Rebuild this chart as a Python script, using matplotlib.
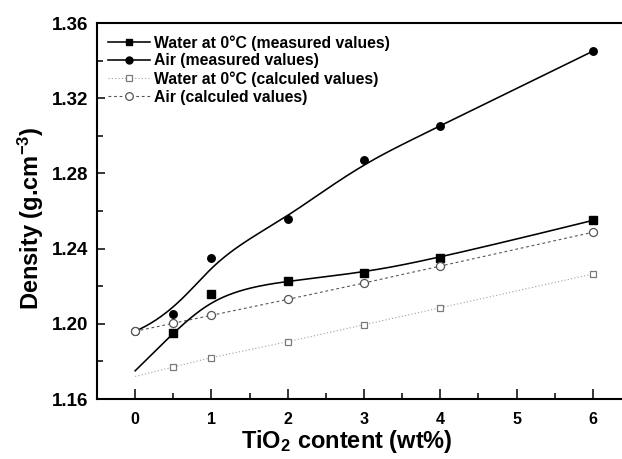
import numpy as np
import matplotlib
matplotlib.use("Agg")
import matplotlib.pyplot as plt
from matplotlib.ticker import MultipleLocator, FormatStrFormatter
from matplotlib.lines import Line2D

plt.rcParams['font.family'] = ['Liberation Sans', 'DejaVu Sans']
plt.rcParams['font.weight'] = 'bold'
plt.rcParams['mathtext.fontset'] = 'custom'
plt.rcParams['mathtext.rm'] = 'Liberation Sans:bold'
plt.rcParams['mathtext.default'] = 'rm'

# Data (TiO2 wt% vs density g/cm3)
tio2 = [0, 0.5, 1, 2, 3, 4, 6]
water_measured = [1.175, 1.195, 1.216, 1.223, 1.227, 1.235, 1.255]
air_measured = [1.196, 1.205, 1.235, 1.256, 1.287, 1.305, 1.345]
water_calculated = [1.172, 1.177, 1.182, 1.1905, 1.1995, 1.2085, 1.2265]
air_calculated = [1.196, 1.2003, 1.2045, 1.213, 1.2217, 1.2307, 1.2487]

labels = ["Water at 0°C (measured values)", "Air (measured values)",
          "Water at 0°C (calculed values)", "Air (calculed values)"]


def bspline(xs, ys, n=300):
    """Clamped cubic B-spline using the data points as control points."""
    P = np.column_stack([xs, ys]).astype(float)
    m = len(P)
    k = 3
    inner = np.linspace(0, 1, m - k + 1)
    knots = np.concatenate([[0] * k, inner, [1] * k])
    ts = np.linspace(0, 1, n)
    out = []
    for t in ts:
        if t >= 1.0:
            s = m - 1
        else:
            s = np.searchsorted(knots, t, side='right') - 1
        d = [P[j + s - k].copy() for j in range(k + 1)]
        for r in range(1, k + 1):
            for j in range(k, r - 1, -1):
                i = j + s - k
                denom = knots[i + k + 1 - r] - knots[i]
                a = 0.0 if denom == 0 else (t - knots[i]) / denom
                d[j] = (1 - a) * d[j - 1] + a * d[j]
        out.append(d[k])
    out = np.array(out)
    return out[:, 0], out[:, 1]


fig = plt.figure(figsize=(6.22, 4.59), dpi=100)
ax = fig.add_axes([97 / 622, 60 / 459, 534 / 622, 376 / 459])

# measured values: smooth B-spline lines + filled markers
wx, wy = bspline(tio2, water_measured)
ax.plot(wx, wy, color='black', lw=1.15, zorder=3)
ax.plot(tio2[1:], water_measured[1:], ls='none', marker='s', ms=5.2,
        color='black', zorder=4)
axx, axy = bspline(tio2, air_measured)
ax.plot(axx, axy, color='black', lw=1.15, zorder=3)
ax.plot(tio2, air_measured, ls='none', marker='o', ms=5.4,
        color='black', zorder=4)

# calculated values
ax.plot(tio2, water_calculated, color='#a0a0a0', lw=0.8, ls=(0, (1, 2)),
        zorder=2)
ax.plot(tio2[1:], water_calculated[1:], ls='none', marker='s', ms=5,
        mfc='white', mec='#7a7a7a', mew=0.9, zorder=5)
ax.plot(tio2, air_calculated, color='#555555', lw=0.8, ls=(0, (2.5, 2.5)),
        zorder=2)
ax.plot(tio2, air_calculated, ls='none', marker='o', ms=5.8,
        mfc='white', mec='#555555', mew=0.9, zorder=5)

# legend handles
h = [
    Line2D([], [], color='black', lw=1.15, marker='s', ms=4.5),
    Line2D([], [], color='black', lw=1.15, marker='o', ms=5),
    Line2D([], [], color='#a0a0a0', lw=0.8, ls=(0, (1, 2)), marker='s', ms=5,
           mfc='white', mec='#7a7a7a', mew=0.9),
    Line2D([], [], color='#555555', lw=0.8, ls=(0, (2.5, 2.5)), marker='o',
           ms=5.5, mfc='white', mec='#555555', mew=0.9),
]
leg = ax.legend(h, labels, loc='upper left', frameon=False,
                bbox_to_anchor=(11 / 534, 1 - 12 / 376), borderaxespad=0,
                borderpad=0, handlelength=2.7, handletextpad=0.25,
                labelspacing=0.18, prop={'size': 11.3, 'weight': 'bold'})

ax.set_xlim(-0.5, 6.5)
ax.set_ylim(1.16, 1.36)
ax.xaxis.set_major_locator(MultipleLocator(1))
ax.xaxis.set_minor_locator(MultipleLocator(0.5))
ax.yaxis.set_major_locator(MultipleLocator(0.04))
ax.yaxis.set_minor_locator(MultipleLocator(0.02))
ax.yaxis.set_major_formatter(FormatStrFormatter('%.2f'))

ax.tick_params(axis='both', which='both', direction='in', width=1.1,
               top=False, right=False)
ax.tick_params(axis='x', which='major', length=7, pad=9, labelsize=11.5)
ax.tick_params(axis='x', which='minor', length=4)
ax.tick_params(axis='y', which='major', length=6, pad=6, labelsize=13.5)
ax.tick_params(axis='y', which='minor', length=4)
for lab in ax.get_xticklabels() + ax.get_yticklabels():
    lab.set_fontweight('bold')

for s in ['left', 'bottom', 'top']:
    ax.spines[s].set_linewidth(1.5)
ax.spines['right'].set_visible(False)

ax.set_xlabel('TiO$_2$ content (wt%)', fontsize=17, fontweight='bold')
ax.set_ylabel('Density (g.cm$^{-3}$)', fontsize=17, fontweight='bold')
ax.xaxis.set_label_coords((347 - 97) / 534, (399 - 428) / 376)
ax.yaxis.set_label_coords((46 - 97) / 534, (399 - 218) / 376)

fig.savefig('out.png', dpi=100)
